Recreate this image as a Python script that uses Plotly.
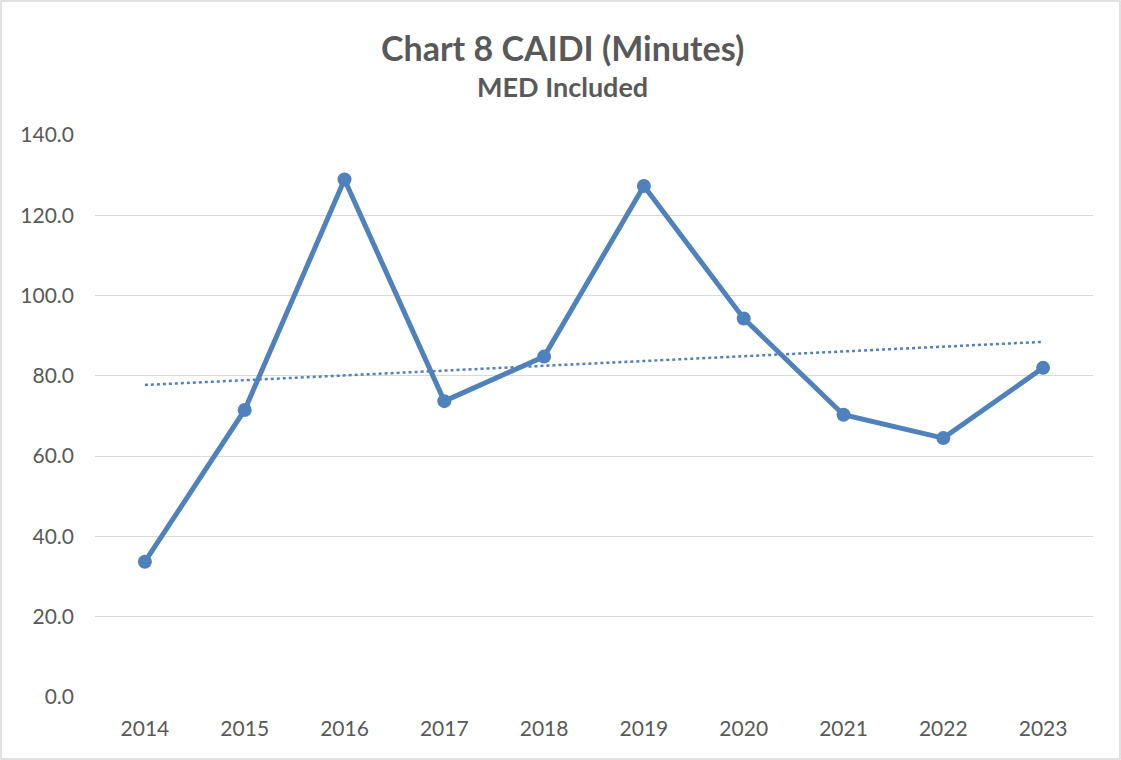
import numpy as np
import plotly.graph_objects as go

# CAIDI values (minutes, MED included)
years = ["2014", "2015", "2016", "2017", "2018", "2019", "2020", "2021", "2022", "2023"]
caidi = [33.7, 71.5, 128.9, 73.7, 84.8, 127.3, 94.3, 70.3, 64.5, 82.0]
y_ticks = [0, 20, 40, 60, 80, 100, 120, 140]

W, H = 1121, 760
L, R, T, B = 95, 28, 135, 63

# linear trendline, like the Excel one
idx = np.arange(len(years))
slope, icept = np.polyfit(idx, caidi, 1)
trend = slope * idx + icept

fig = go.Figure()
fig.add_trace(go.Scatter(x=years, y=caidi, mode="lines+markers",
                         line=dict(color="#4F81BD", width=5),
                         marker=dict(color="#4F81BD", size=14),
                         showlegend=False))
fig.add_trace(go.Scatter(x=years, y=trend, mode="lines",
                         line=dict(color="#4F81BD", width=2.5, dash="dot"),
                         showlegend=False, hoverinfo="skip"))

font = "Lato, 'Open Sans', sans-serif"
pw, ph = W - L - R, H - T - B
fig.add_shape(type="rect", xref="paper", yref="paper",
              x0=-(L - 1) / pw, x1=1 + (R - 1) / pw,
              y0=-(B - 1) / ph, y1=1 + (T - 1) / ph,
              line=dict(color="#D9D9D9", width=1.5))

fig.add_annotation(text="<b>Chart 8 CAIDI (Minutes)</b>", xref="paper", yref="paper",
                   x=(562 - L) / pw, y=1 + (135 - 47) / ph, showarrow=False,
                   xanchor="center", yanchor="middle",
                   font=dict(family=font, size=34, color="#595959"))
fig.add_annotation(text="<b>MED Included</b>", xref="paper", yref="paper",
                   x=(562 - L) / pw, y=1 + (135 - 86) / ph, showarrow=False,
                   xanchor="center", yanchor="middle",
                   font=dict(family=font, size=27, color="#595959"))

fig.update_layout(
    width=W, height=H,
    margin=dict(l=L, r=R, t=T, b=B),
    paper_bgcolor="white", plot_bgcolor="white",
    font=dict(family=font, size=21, color="#595959"),
    xaxis=dict(type="category", range=[-0.5, 9.5], showgrid=False,
               showline=False, ticks="", ticklen=0, ticklabelstandoff=17),
    yaxis=dict(range=[0, 140], tickvals=y_ticks,
               ticktext=[f"{v:.1f}" for v in y_ticks],
               showgrid=True, gridcolor="#D9D9D9", gridwidth=1.3,
               zeroline=False, showline=False, ticks="", ticklabelstandoff=20),
)

fig.write_html("out.html", config={"displayModeBar": False},
               post_script="document.body.style.margin='0';")
